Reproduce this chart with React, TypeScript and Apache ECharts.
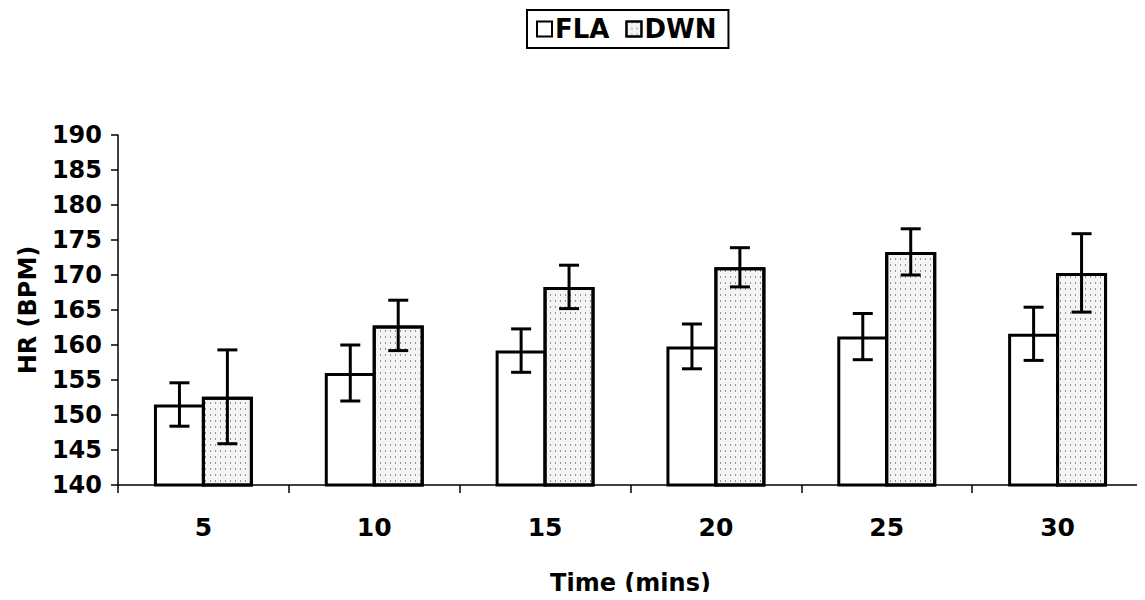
import React, { useEffect, useRef } from "react";
import * as echarts from "echarts";

const categories = ["5", "10", "15", "20", "25", "30"];
const flaMean = [151.5, 156.0, 159.2, 159.8, 161.2, 161.6];
const flaErr = [3.1, 4.0, 3.1, 3.2, 3.3, 3.8];
const dwnMean = [152.6, 162.8, 168.3, 171.1, 173.3, 170.3];
const dwnErr = [6.7, 3.6, 3.1, 2.8, 3.3, 5.6];
const yTicks = { min: 140, max: 190, interval: 5 };

const FONT = "DejaVu Sans";
const BAR_W = 51;
const GAP = -0.06;

export default function App() {
  const ref = useRef<HTMLDivElement>(null);
  useEffect(() => {
    if (!ref.current) return;
    const chart = echarts.init(ref.current, null, { renderer: "svg" });
    const off = (BAR_W * (1 + GAP)) / 2;

    const errSeries = (name: string, means: number[], errs: number[], offset: number) => ({
      type: "custom",
      name: name + "-err",
      silent: true,
      z: 10,
      data: means.map((m, i) => [i, m - errs[i], m + errs[i]]),
      encode: { x: 0, y: [1, 2] },
      renderItem: (params: any, api: any) => {
        const idx = api.value(0);
        const lo = api.coord([idx, api.value(1)]);
        const hi = api.coord([idx, api.value(2)]);
        const x = lo[0] + offset;
        const cap = 10;
        const style = { stroke: "#000", lineWidth: 3 };
        return {
          type: "group",
          children: [
            { type: "line", shape: { x1: x, y1: lo[1], x2: x, y2: hi[1] }, style },
            { type: "line", shape: { x1: x - cap, y1: lo[1], x2: x + cap, y2: lo[1] }, style },
            { type: "line", shape: { x1: x - cap, y1: hi[1], x2: x + cap, y2: hi[1] }, style },
          ],
        };
      },
    });

    chart.setOption({
      animation: false,
      backgroundColor: "#fff",
      legend: {
        top: 10,
        left: 527,
        data: ["FLA", "DWN"],
        icon: "rect",
        itemWidth: 15,
        itemHeight: 15,
        itemGap: 16,
        padding: [6, 12, 6, 9],
        borderColor: "#000",
        borderWidth: 2,
        textStyle: { fontFamily: FONT, fontWeight: "bold", fontSize: 26, color: "#000", padding: [0, 0, 0, -2] },
      },
      grid: { left: 118, right: 2, top: 135, bottom: 111, containLabel: false },
      xAxis: {
        type: "category",
        data: categories,
        axisLine: { lineStyle: { color: "#000", width: 1.5 } },
        axisTick: { show: true, length: 8, lineStyle: { color: "#000", width: 1.5 } },
        axisLabel: { color: "#000", fontFamily: FONT, fontWeight: "bold", fontSize: 25, margin: 30 },
        name: "Time (mins)",
        nameLocation: "middle",
        nameGap: 86,
        nameTextStyle: { color: "#000", fontFamily: FONT, fontWeight: "bold", fontSize: 24 },
      },
      yAxis: {
        type: "value",
        min: yTicks.min,
        max: yTicks.max,
        interval: yTicks.interval,
        splitLine: { show: false },
        axisLine: { show: true, lineStyle: { color: "#000", width: 1.5 } },
        axisTick: { show: true, length: 7, lineStyle: { color: "#000", width: 1.5 } },
        axisLabel: { color: "#000", fontFamily: FONT, fontWeight: "bold", fontSize: 24, margin: 16 },
        name: "HR (BPM)",
        nameLocation: "middle",
        nameRotate: 90,
        nameGap: 78,
        nameTextStyle: { color: "#000", fontFamily: FONT, fontWeight: "bold", fontSize: 24 },
      },
      series: [
        {
          type: "bar",
          name: "FLA",
          data: flaMean,
          barWidth: BAR_W,
          barGap: GAP * 100 + "%",
          itemStyle: { color: "#fff", borderColor: "#000", borderWidth: 3 },
        },
        {
          type: "bar",
          name: "DWN",
          data: dwnMean,
          barWidth: BAR_W,
          barGap: GAP * 100 + "%",
          itemStyle: {
            color: "#f4f4f4",
            borderColor: "#000",
            borderWidth: 3,
            decal: {
              symbol: "rect",
              symbolSize: 1,
              color: "rgba(0,0,0,0.4)",
              dashArrayX: [1, 4],
              dashArrayY: [2, 4],
              rotation: 0,
            },
          },
        },
        errSeries("FLA", flaMean, flaErr, -off),
        errSeries("DWN", dwnMean, dwnErr, off),
      ],
    });
    return () => chart.dispose();
  }, []);
  return <div ref={ref} style={{ width: 1145, height: 600, margin: -8 }} />;
}
